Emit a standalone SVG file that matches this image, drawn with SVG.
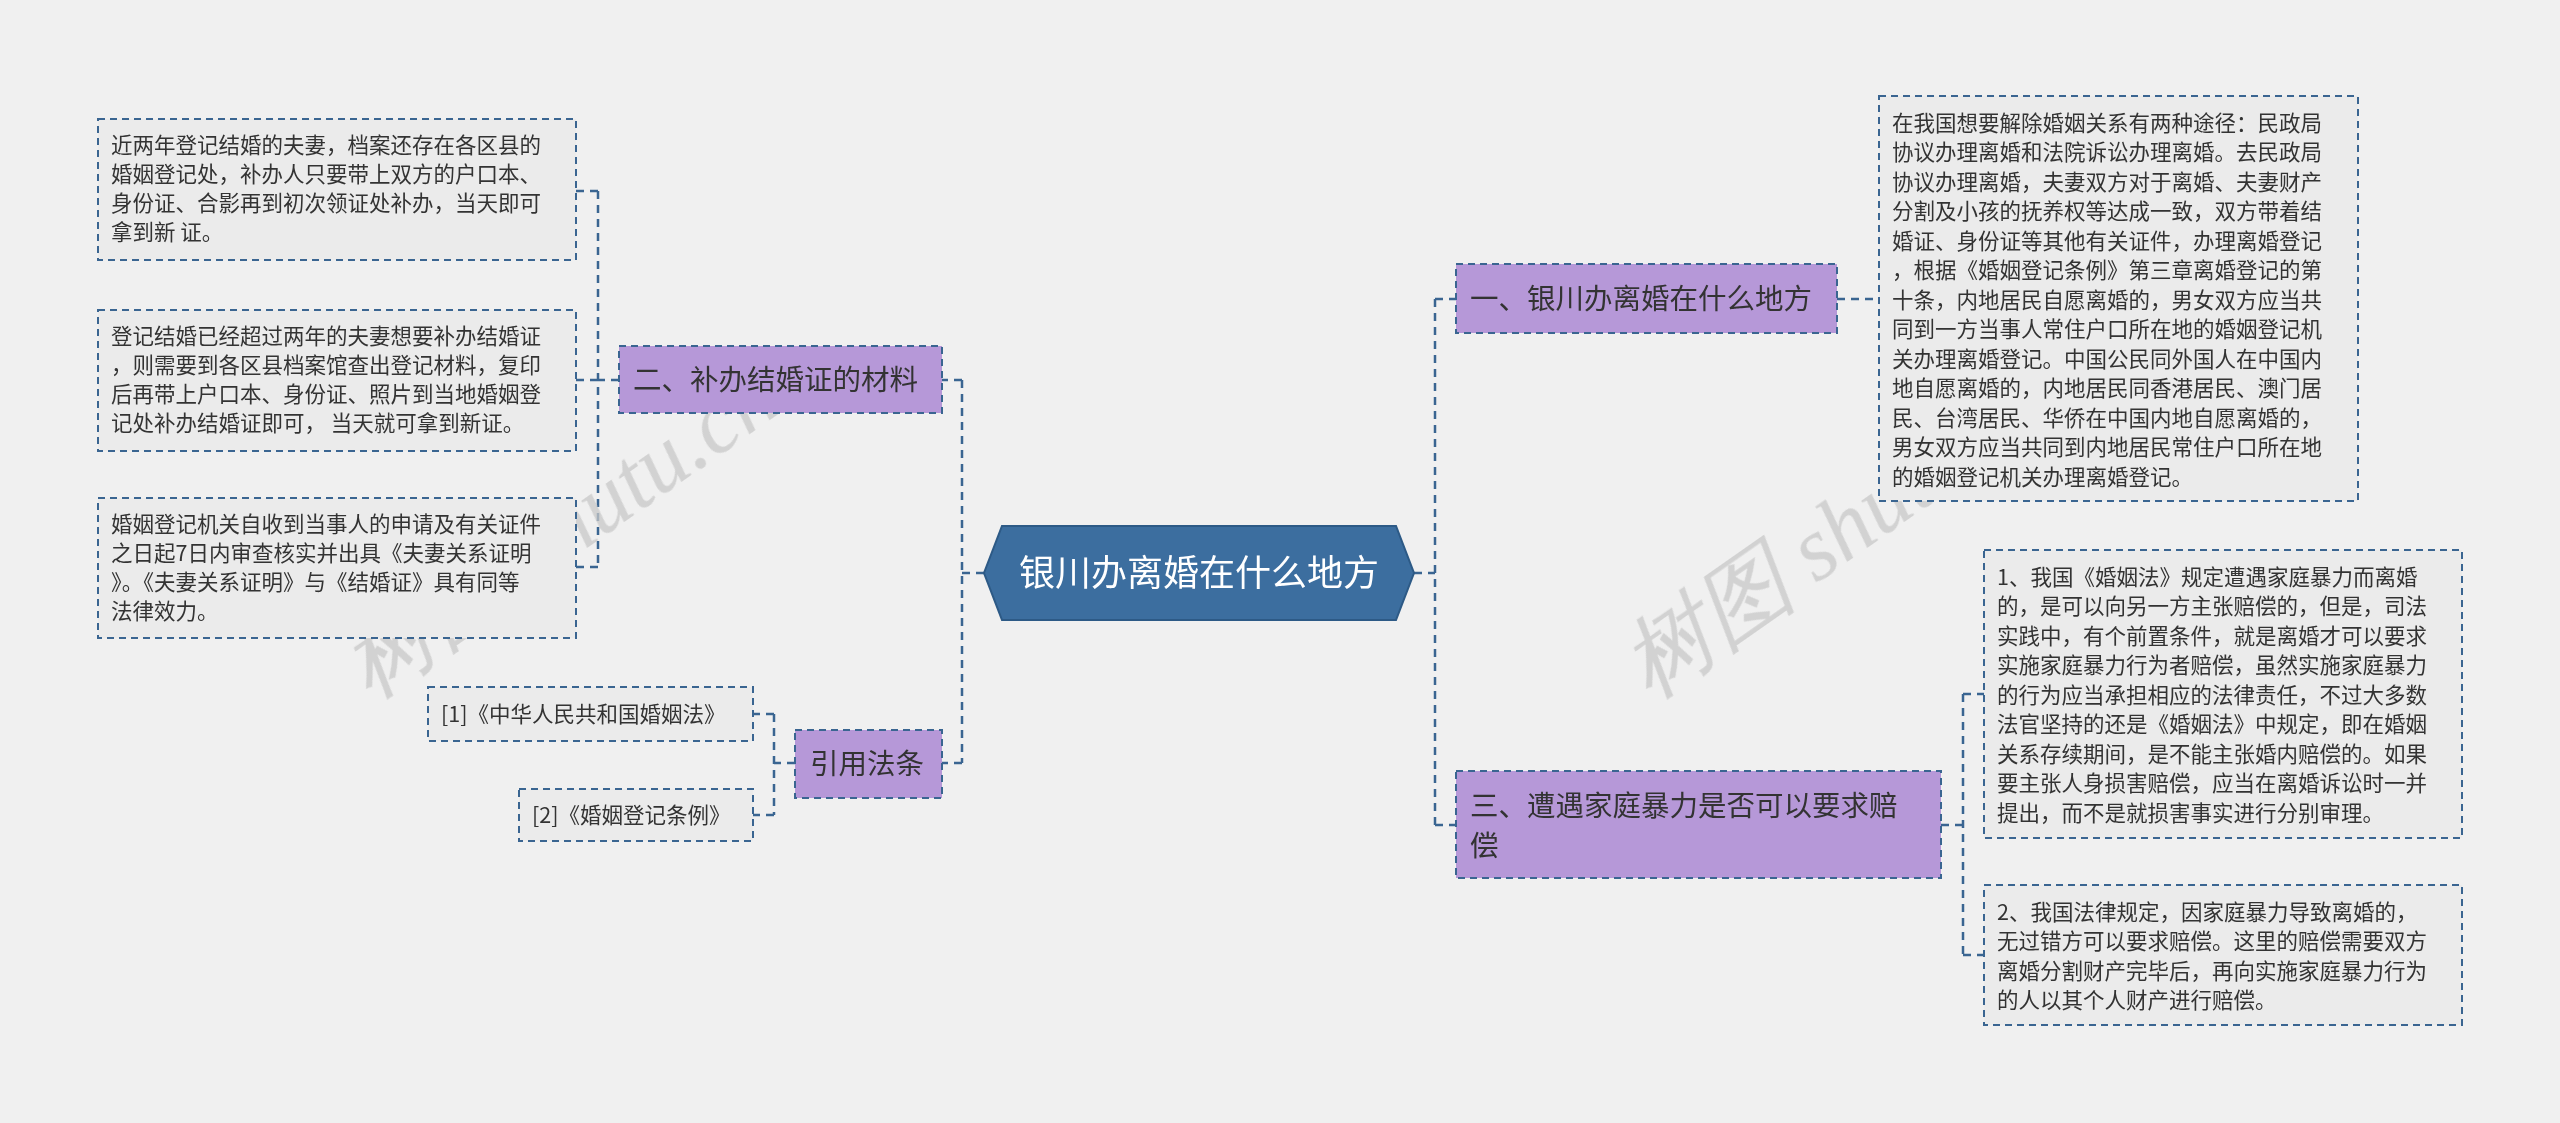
<svg xmlns="http://www.w3.org/2000/svg" width="2560" height="1123" viewBox="0 0 2560 1123">
<style>
.leaf{fill:#ebebeb;stroke:#3a6591;stroke-width:2;stroke-dasharray:7 5}
.sub{fill:#b698d8;stroke:#3a6591;stroke-width:2;stroke-dasharray:7 5}
.c{fill:none;stroke:#3a6591;stroke-width:2.5;stroke-dasharray:8 6}
.t{font-family:"Noto Sans CJK SC","Noto Sans",sans-serif;font-size:21.5px;fill:#333}
.s{font-family:"Noto Sans CJK SC","Noto Sans",sans-serif;font-size:28.5px;fill:#333}
</style>
<rect width="2560" height="1123" fill="#f0f0f0"/>
<g id="connectors">
<path class="c" d="M984 573H962M962 380V763M962 380H942M962 763H942"/>
<path class="c" d="M1414 573H1435M1435 299V825M1435 299H1456M1435 825H1456"/>
<path class="c" d="M619 380H598M598 191V567M598 191H576M598 380H576M598 567H576"/>
<path class="c" d="M795 763H774M774 714V815M774 714H753M774 815H753"/>
<path class="c" d="M1837 299H1879"/>
<path class="c" d="M1941 825H1963M1963 694V955M1963 694H1984M1963 955H1984"/>
</g>
<g font-family="Liberation Serif,serif" font-style="italic" font-size="90" fill="#c8c8c8" opacity="0.75">
<text transform="translate(370,700) rotate(-35)">树图 shutu.cn</text>
<text transform="translate(1650,700) rotate(-35)">树图 shutu.cn</text>
</g>
<g id="center">
<path d="M1002 526H1396L1414 573L1396 620H1002L984 573Z" fill="#3c6e9f" stroke="#2d5a86" stroke-width="2"/>
<text x="1199" y="586" text-anchor="middle" font-family="Noto Sans CJK SC,sans-serif" font-size="36" fill="#fff">银川办离婚在什么地方</text>
</g>
<g id="n2"><rect class="sub" x="619" y="346" width="323" height="67"/><text class="s" x="633" y="390">二、补办结婚证的材料</text></g>
<g id="ref"><rect class="sub" x="795" y="730" width="147" height="68"/><text class="s" x="810" y="774">引用法条</text></g>
<g id="l1"><rect class="leaf" x="98" y="119" width="478" height="141"/>
<text class="t"><tspan x="111" y="153">近两年登记结婚的夫妻，档案还存在各区县的</tspan><tspan x="111" y="182">婚姻登记处，补办人只要带上双方的户口本、</tspan><tspan x="111" y="211">身份证、合影再到初次领证处补办，当天即可</tspan><tspan x="111" y="240">拿到新 证。</tspan></text></g>
<g id="l2"><rect class="leaf" x="98" y="310" width="478" height="141"/>
<text class="t"><tspan x="111" y="344">登记结婚已经超过两年的夫妻想要补办结婚证</tspan><tspan x="111" y="373">，则需要到各区县档案馆查出登记材料，复印</tspan><tspan x="111" y="402">后再带上户口本、身份证、照片到当地婚姻登</tspan><tspan x="111" y="431">记处补办结婚证即可， 当天就可拿到新证。</tspan></text></g>
<g id="l3"><rect class="leaf" x="98" y="498" width="478" height="140"/>
<text class="t"><tspan x="111" y="532">婚姻登记机关自收到当事人的申请及有关证件</tspan><tspan x="111" y="561">之日起7日内审查核实并出具《夫妻关系证明</tspan><tspan x="111" y="590">》。《夫妻关系证明》与《结婚证》具有同等</tspan><tspan x="111" y="619">法律效力。</tspan></text></g>
<g id="law1"><rect class="leaf" x="428" y="687" width="325" height="54"/><text class="t" x="441" y="722">[1]《中华人民共和国婚姻法》</text></g>
<g id="law2"><rect class="leaf" x="519" y="789" width="234" height="52"/><text class="t" x="532" y="823">[2]《婚姻登记条例》</text></g>
<g id="n1"><rect class="sub" x="1456" y="264" width="381" height="69"/><text class="s" x="1470" y="309">一、银川办离婚在什么地方</text></g>
<g id="r1"><rect class="leaf" x="1879" y="96" width="479" height="405"/>
<text class="t"><tspan x="1892" y="131">在我国想要解除婚姻关系有两种途径：民政局</tspan><tspan x="1892" y="160">协议办理离婚和法院诉讼办理离婚。去民政局</tspan><tspan x="1892" y="190">协议办理离婚，夫妻双方对于离婚、夫妻财产</tspan><tspan x="1892" y="219">分割及小孩的抚养权等达成一致，双方带着结</tspan><tspan x="1892" y="249">婚证、身份证等其他有关证件，办理离婚登记</tspan><tspan x="1892" y="278">，根据《婚姻登记条例》第三章离婚登记的第</tspan><tspan x="1892" y="308">十条，内地居民自愿离婚的，男女双方应当共</tspan><tspan x="1892" y="337">同到一方当事人常住户口所在地的婚姻登记机</tspan><tspan x="1892" y="367">关办理离婚登记。中国公民同外国人在中国内</tspan><tspan x="1892" y="396">地自愿离婚的，内地居民同香港居民、澳门居</tspan><tspan x="1892" y="426">民、台湾居民、华侨在中国内地自愿离婚的，</tspan><tspan x="1892" y="455">男女双方应当共同到内地居民常住户口所在地</tspan><tspan x="1892" y="485">的婚姻登记机关办理离婚登记。</tspan></text></g>
<g id="n3"><rect class="sub" x="1456" y="771" width="485" height="107"/><text class="s"><tspan x="1470" y="816">三、遭遇家庭暴力是否可以要求赔</tspan><tspan x="1470" y="856">偿</tspan></text></g>
<g id="r2"><rect class="leaf" x="1984" y="550" width="478" height="288"/>
<text class="t"><tspan x="1997" y="585">1、我国《婚姻法》规定遭遇家庭暴力而离婚</tspan><tspan x="1997" y="614">的，是可以向另一方主张赔偿的，但是，司法</tspan><tspan x="1997" y="644">实践中，有个前置条件，就是离婚才可以要求</tspan><tspan x="1997" y="673">实施家庭暴力行为者赔偿，虽然实施家庭暴力</tspan><tspan x="1997" y="703">的行为应当承担相应的法律责任，不过大多数</tspan><tspan x="1997" y="732">法官坚持的还是《婚姻法》中规定，即在婚姻</tspan><tspan x="1997" y="762">关系存续期间，是不能主张婚内赔偿的。如果</tspan><tspan x="1997" y="791">要主张人身损害赔偿，应当在离婚诉讼时一并</tspan><tspan x="1997" y="821">提出，而不是就损害事实进行分别审理。</tspan></text></g>
<g id="r3"><rect class="leaf" x="1984" y="885" width="478" height="140"/>
<text class="t"><tspan x="1997" y="920">2、我国法律规定，因家庭暴力导致离婚的，</tspan><tspan x="1997" y="949">无过错方可以要求赔偿。这里的赔偿需要双方</tspan><tspan x="1997" y="979">离婚分割财产完毕后，再向实施家庭暴力行为</tspan><tspan x="1997" y="1008">的人以其个人财产进行赔偿。</tspan></text></g>
</svg>
